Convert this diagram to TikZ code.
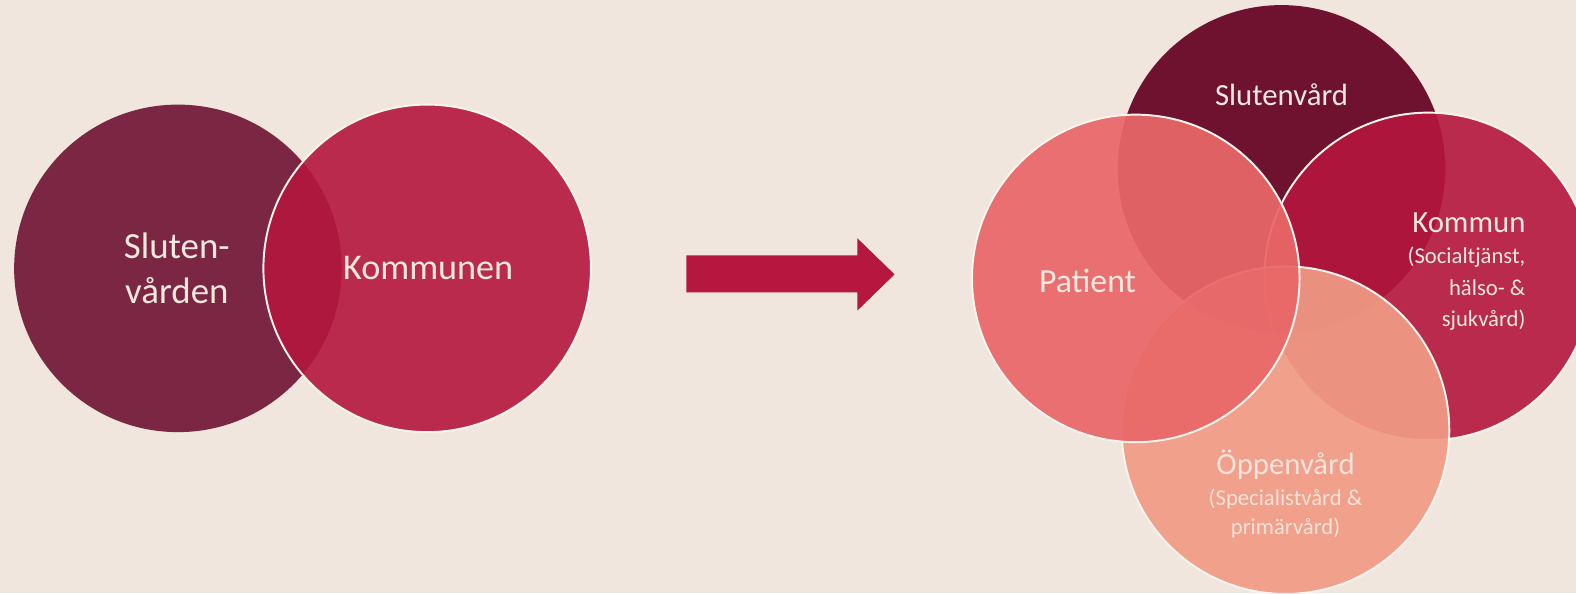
\documentclass[tikz,border=0pt]{standalone}
\usepackage{fontspec}
\setmainfont{Carlito}
\usepackage{tikz}
\usetikzlibrary{positioning}

\definecolor{bgbeige}{HTML}{F0E6DE}
\definecolor{slutdark}{HTML}{7B2642}
\definecolor{slutdeep}{HTML}{6E1230}
\definecolor{kommred}{HTML}{B4163E}
\definecolor{patrose}{HTML}{E96768}
\definecolor{oppsalmon}{HTML}{F09B85}
\definecolor{arrred}{HTML}{B5173F}
\definecolor{txtcream}{HTML}{F3E8E0}
\definecolor{txtfade}{HTML}{F7E3DA}
\definecolor{rimwhite}{HTML}{FAF4EE}

\begin{document}
\begin{tikzpicture}[
    x=0.201mm, y=-0.201mm,
    blob/.style={circle, minimum size=65.5mm, inner sep=0pt},
    rim/.style={draw=rimwhite, line width=1.1pt},
    lbl/.style={text=txtcream, align=center, inner sep=0pt},
  ]
  \fill[bgbeige] (0,0) rectangle (1568,590);
  \useasboundingbox (0,0) rectangle (1568,590);
  \clip (0,0) rectangle (1568,590);

  % before: two sets
  \node[blob, fill=slutdark] (sluten) at (177,267) {};
  \node[blob, rim, fill=kommred, fill opacity=0.9] (kommunen) at (425,267) {};
  \node[lbl, font=\fontsize{21}{26}\selectfont] (slutentxt) at (176,267) {Sluten-\\vården};
  \node[lbl, font=\fontsize{20.6}{25}\selectfont] (kommunentxt) at (426,267) {Kommunen};

  % arrow
  \fill[arrred] (683,254) -- (853,254) -- (853,237) -- (890,273)
    -- (853,309) -- (853,291) -- (683,291) -- cycle;

  % after: four sets
  \node[blob, fill=slutdeep] (slutenvard) at (1275,168) {};
  \node[blob, rim, fill=kommred, fill opacity=0.9] (kommun) at (1421,275) {};
  \node[blob, rim, fill=oppsalmon, fill opacity=0.92] (oppen) at (1279,428) {};
  \node[blob, rim, fill=patrose, fill opacity=0.93] (patient) at (1130,277) {};

  \node[lbl, font=\fontsize{17.5}{21}\selectfont] (slutenvardtxt) at (1275,94) {Slutenvård};
  \node[lbl, font=\fontsize{19.2}{23}\selectfont] (patienttxt) at (1082,280) {Patient};
  \node[lbl, anchor=north east, font=\fontsize{17.5}{21}\selectfont] (kommuntxt) at (1518,211) {Kommun};
  \node[lbl, align=right, font=\fontsize{12.9}{18}\selectfont, below=8pt of kommuntxt.south east, anchor=north east] (kommunsub) {(Socialtjänst,\\hälso- \&\\sjukvård)};
  \node[lbl, text=txtfade, font=\fontsize{17.5}{21}\selectfont] (oppentxt) at (1279,462) {Öppenvård};
  \node[lbl, text=txtfade, font=\fontsize{12.9}{16.5}\selectfont, below=5pt of oppentxt] (oppensub) {(Specialistvård \&\\primärvård)};
\end{tikzpicture}
\end{document}
